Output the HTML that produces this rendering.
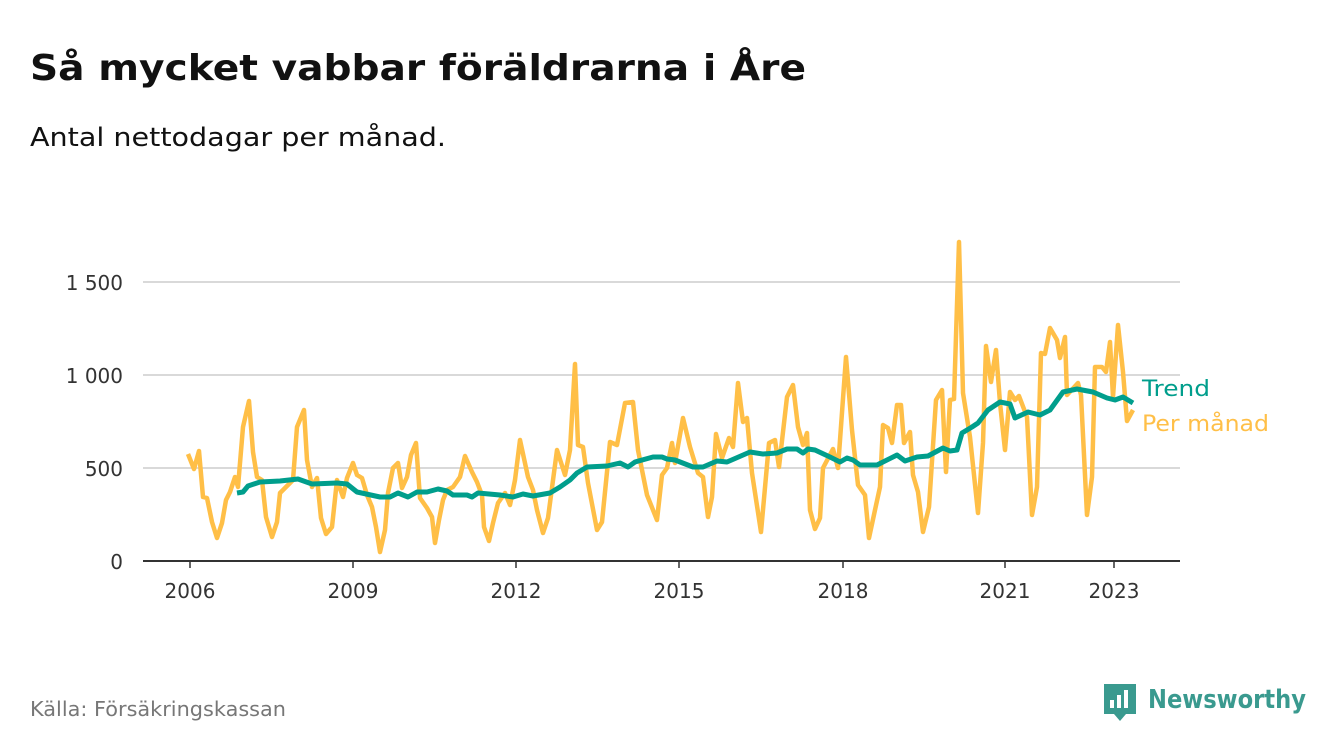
<!DOCTYPE html>
<html><head><meta charset="utf-8"><style>
html,body{margin:0;padding:0;background:#fff;}
svg{display:block;font-family:"DejaVu Sans","Liberation Sans",sans-serif;}
</style></head><body>
<svg width="1340" height="753" viewBox="0 0 1340 753" xmlns="http://www.w3.org/2000/svg">
<text x="30" y="80" font-size="36" font-weight="bold" fill="#111" textLength="776" lengthAdjust="spacingAndGlyphs">Så mycket vabbar föräldrarna i Åre</text>
<text x="30" y="146" font-size="26" fill="#111" textLength="416" lengthAdjust="spacingAndGlyphs">Antal nettodagar per månad.</text>
<g stroke="#d9d9d9" stroke-width="2">
<line x1="143" y1="282" x2="1180" y2="282"/>
<line x1="143" y1="375" x2="1180" y2="375"/>
<line x1="143" y1="468" x2="1180" y2="468"/>
</g>
<line x1="143" y1="561" x2="1180" y2="561" stroke="#333" stroke-width="2"/>
<g stroke="#333" stroke-width="1.5">
<line x1="190" y1="561" x2="190" y2="568"/><line x1="353" y1="561" x2="353" y2="568"/><line x1="516" y1="561" x2="516" y2="568"/><line x1="679" y1="561" x2="679" y2="568"/><line x1="843" y1="561" x2="843" y2="568"/><line x1="1005" y1="561" x2="1005" y2="568"/><line x1="1114" y1="561" x2="1114" y2="568"/>
</g>
<g font-size="20" fill="#333" text-anchor="end">
<text x="123" y="290">1 500</text><text x="123" y="383">1 000</text><text x="123" y="476">500</text><text x="123" y="569">0</text>
</g>
<g font-size="20" fill="#333" text-anchor="middle">
<text x="190" y="598">2006</text><text x="353" y="598">2009</text><text x="516" y="598">2012</text><text x="679" y="598">2015</text><text x="843" y="598">2018</text><text x="1005" y="598">2021</text><text x="1114" y="598">2023</text>
</g>
<polyline fill="none" stroke="#ffbf47" stroke-width="4.5" stroke-linejoin="round" points="188,454 194,469 199,451 203,497 207,498 212,522 217,538 222,523 226,500 230,492 235,477 238,487 243,427 249,401 253,452 257,477 262,480 266,517 272,537 277,522 280,493 287,486 293,480 297,427 304,410 307,460 312,487 317,478 321,518 326,534 332,527 337,480 343,497 347,478 353,463 357,475 362,478 367,495 372,507 376,527 380,552 385,530 388,493 393,468 398,463 402,488 407,477 411,455 416,443 420,498 427,508 432,517 435,543 439,520 443,500 447,490 453,487 460,477 465,456 472,472 477,482 482,495 484,527 489,541 493,523 498,503 505,493 510,505 515,480 520,440 528,477 533,490 537,510 543,533 548,518 557,450 565,475 570,450 575,364 578,445 583,447 588,483 597,530 602,522 610,442 617,445 625,403 633,402 638,450 647,495 657,520 662,475 667,468 672,443 675,463 683,418 690,447 698,473 703,477 708,517 712,497 716,434 722,458 729,438 733,447 738,383 743,422 747,418 752,473 761,532 769,443 775,440 779,467 787,397 793,385 798,427 803,445 807,433 810,510 815,529 820,518 823,468 833,449 838,468 846,357 852,430 858,485 865,495 869,538 875,510 880,487 883,425 888,428 892,443 897,405 901,405 904,443 910,432 913,475 918,492 923,532 929,507 936,400 942,390 946,472 950,400 954,399 959,242 963,393 970,437 978,513 983,443 986,346 991,382 996,350 1000,403 1005,450 1010,392 1015,400 1019,396 1027,417 1032,515 1037,487 1041,353 1045,354 1050,328 1057,340 1060,358 1065,337 1067,395 1078,383 1081,395 1087,515 1092,477 1095,367 1102,367 1106,372 1110,342 1113,397 1118,325 1123,372 1127,421 1133,410"/>
<polyline fill="none" stroke="#009e8c" stroke-width="5" stroke-linejoin="round" points="237,493 243,492 248,486 260,482 280,481 298,479 312,484 337,483 347,484 357,492 380,497 390,497 398,493 408,497 417,492 427,492 438,489 447,491 453,495 467,495 472,497 478,493 500,495 513,497 523,494 533,496 550,493 560,487 570,480 577,473 587,467 607,466 620,463 628,467 635,462 653,457 662,457 667,459 675,460 693,467 703,467 717,461 727,462 750,452 763,454 777,453 787,449 797,449 803,453 808,449 815,450 830,457 840,462 847,458 853,460 860,465 877,465 897,455 905,461 917,457 928,456 943,448 950,451 957,450 962,433 972,427 978,423 988,410 1000,402 1010,404 1015,418 1028,412 1040,415 1050,410 1063,392 1077,389 1093,392 1107,398 1115,400 1123,397 1133,403"/>
<text x="1142" y="396" font-size="22" fill="#009e8c" textLength="68" lengthAdjust="spacingAndGlyphs">Trend</text>
<text x="1142" y="431" font-size="22" fill="#ffbf47" textLength="127" lengthAdjust="spacingAndGlyphs">Per månad</text>
<text x="30" y="716" font-size="20" fill="#777" textLength="256" lengthAdjust="spacingAndGlyphs">Källa: Försäkringskassan</text>
<g>
<path d="M1104,684 h32 v30 h-10 l-6,7 l-6,-7 h-10 z" fill="#3a9a8f"/>
<rect x="1110" y="700" width="4" height="8" fill="#fff"/>
<rect x="1117" y="695" width="4" height="13" fill="#fff"/>
<rect x="1124" y="690" width="4" height="18" fill="#fff"/>
<text x="1148" y="708" font-size="26" font-weight="bold" fill="#3a9a8f" textLength="158" lengthAdjust="spacingAndGlyphs">Newsworthy</text>
</g>
</svg>
</body></html>
